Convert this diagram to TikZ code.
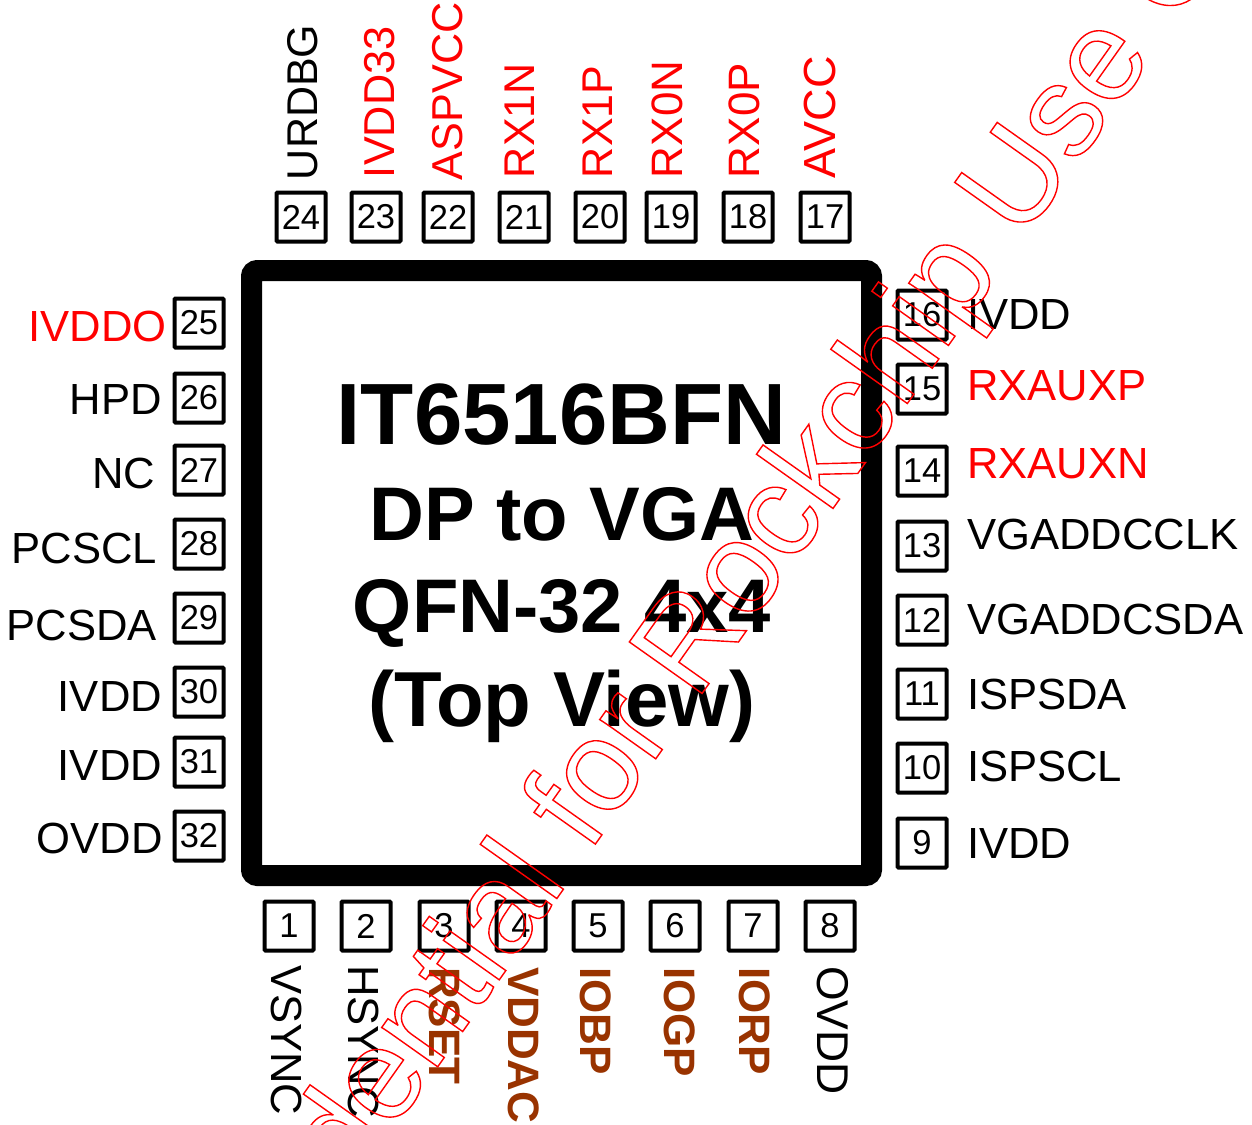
\documentclass[tikz,border=0pt]{standalone}
\usepackage{fontspec}
\setmainfont{Liberation Sans}
\definecolor{padbrown}{HTML}{993300}
\newcommand{\outlineon}{\special{pdf:code 1 Tr 1.4 w}}
\newcommand{\outlineoff}{\special{pdf:code 0 Tr}}

\begin{document}
\begin{tikzpicture}[x=1pt,y=-1pt]
    \tikzstyle{every node}=[inner sep=0pt, outer sep=0pt]
    \tikzstyle{pinbox}=[draw, line width=4pt, rounded corners=1pt, minimum size=49pt, font=\fontsize{34.5}{40}\selectfont]
    \tikzstyle{pinname}=[font=\fontsize{43.6}{50}\selectfont]
    \tikzstyle{padname}=[font=\fontsize{44}{50}\selectfont\bfseries, text=padbrown]
    \tikzstyle{title}=[anchor=base, font=\fontsize{76}{80}\selectfont\bfseries]
    \path[use as bounding box, clip] (0,0) rectangle (1252,1124);
    \fill[white] (0,0) rectangle (1252,1124);
    % package body
    \node[draw, line width=21pt, rounded corners=6pt, minimum width=620pt, minimum height=605pt] (chip) at (561.5,573) {};
    \node[title, font=\fontsize{87}{92}\selectfont\bfseries] (title1) at (561.5,444) {IT6516BFN};
    \node[title] (title2) at (562,540) {DP to VGA};
    \node[title] (title3) at (562,632) {QFN-32 4x4};
    \node[title, font=\fontsize{78}{84}\selectfont\bfseries] (title4) at (562,726) {(Top View)};
    % pins
    \foreach \n/\x in {1/289,2/366,3/444,4/521,5/598,6/675,7/753,8/830} \node[pinbox] (pin\n) at (\x,926) {\n};
    \foreach \n/\y in {9/843,10/768,11/694,12/620,13/546,14/471,15/389,16/315} \node[pinbox] (pin\n) at (922,\y) {\n};
    \foreach \n/\x in {17/825,18/748,19/671,20/600,21/524,22/448,23/376,24/301} \node[pinbox] (pin\n) at (\x,217) {\n};
    \foreach \n/\y in {25/323,26/398,27/470,28/544,29/618,30/692,31/762,32/836} \node[pinbox] (pin\n) at (199,\y) {\n};
    % pin names, bottom
    \node[pinname, rotate=-90, anchor=west] (name1) at (287,965) {VSYNC};
    \node[pinname, rotate=-90, anchor=west] (name2) at (364,965) {HSYNC};
    \node[padname, rotate=-90, anchor=west] (name3) at (445,967) {RSET};
    \node[padname, rotate=-90, anchor=west] (name4) at (524,967) {VDDAC};
    \node[padname, rotate=-90, anchor=west] (name5) at (596,967) {IOBP};
    \node[padname, rotate=-90, anchor=west] (name6) at (680,967) {IOGP};
    \node[padname, rotate=-90, anchor=west] (name7) at (755,967) {IORP};
    \node[pinname, rotate=-90, anchor=west, font=\fontsize{44.5}{50}\selectfont] (name8) at (833,966) {OVDD};
    % pin names, right
    \node[pinname, anchor=west] (name9) at (967,843) {IVDD};
    \node[pinname, anchor=west] (name10) at (967,766) {ISPSCL};
    \node[pinname, anchor=west] (name11) at (967,694) {ISPSDA};
    \node[pinname, anchor=west] (name12) at (967,619) {VGADDCSDA};
    \node[pinname, anchor=west] (name13) at (967,534) {VGADDCCLK};
    \node[pinname, anchor=west, text=red] (name14) at (967,464) {RXAUXN};
    \node[pinname, anchor=west, text=red] (name15) at (967,386) {RXAUXP};
    \node[pinname, anchor=west] (name16) at (967,314) {IVDD};
    % pin names, top
    \node[pinname, rotate=90, anchor=west, text=red, font=\fontsize{45}{50}\selectfont] (name17) at (820,178) {AVCC};
    \node[pinname, rotate=90, anchor=west, text=red, font=\fontsize{44}{50}\selectfont] (name18) at (744,178) {RX0P};
    \node[pinname, rotate=90, anchor=west, text=red, font=\fontsize{44}{50}\selectfont] (name19) at (667,178) {RX0N};
    \node[pinname, rotate=90, anchor=west, text=red, font=\fontsize{43}{50}\selectfont] (name20) at (598,178) {RX1P};
    \node[pinname, rotate=90, anchor=west, text=red, font=\fontsize{43}{50}\selectfont] (name21) at (520,178) {RX1N};
    \node[pinname, rotate=90, anchor=west, text=red, font=\fontsize{43.2}{50}\selectfont] (name22) at (448,180) {ASPVCC};
    \node[pinname, rotate=90, anchor=west, text=red, font=\fontsize{43.2}{50}\selectfont] (name23) at (380,178) {IVDD33};
    \node[pinname, rotate=90, anchor=west, font=\fontsize{43}{50}\selectfont] (name24) at (303,180) {URDBG};
    % pin names, left
    \node[pinname, anchor=east, text=red] (name25) at (166.5,326) {IVDDO};
    \node[pinname, anchor=east] (name26) at (162,399) {HPD};
    \node[pinname, anchor=east] (name27) at (155,473) {NC};
    \node[pinname, anchor=east] (name28) at (157,548) {PCSCL};
    \node[pinname, anchor=east] (name29) at (157,625) {PCSDA};
    \node[pinname, anchor=east] (name30) at (162,696) {IVDD};
    \node[pinname, anchor=east] (name31) at (162,765) {IVDD};
    \node[pinname, anchor=east] (name32) at (162.5,838) {OVDD};
    % watermark
    \node[anchor=base west, rotate=54.7, text=red, font=\fontsize{129.5}{135}\selectfont\addfontfeature{LetterSpace=-0.45}] (mark) at (177,1435) {\outlineon Confidential for Rockchip Use Only\outlineoff};
\end{tikzpicture}
\end{document}
